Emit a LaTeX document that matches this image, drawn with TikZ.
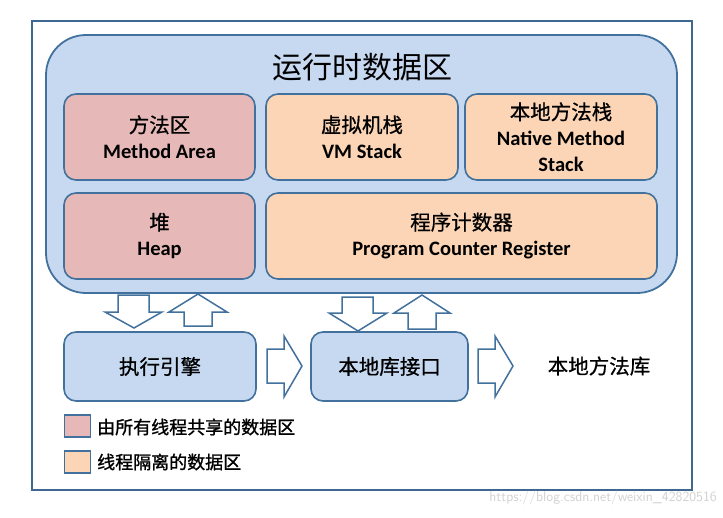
\documentclass[tikz,border=0pt]{standalone}
\usepackage{fontspec}
\setmainfont{Carlito}
\newfontfamily\cjk{Noto Sans CJK SC}
\newfontfamily\cjkm{Noto Sans CJK SC}[FakeBold=0.7]
\newfontfamily\cjkb{Noto Sans CJK SC}[FakeBold=1.2]
\newfontfamily\en{Carlito}
\definecolor{edge}{HTML}{41719C}
\definecolor{framec}{HTML}{3F6890}
\definecolor{bluef}{HTML}{C6D9F1}
\definecolor{pinkf}{HTML}{E6B9B8}
\definecolor{orangef}{HTML}{FBD5B5}
\tikzset{
  area/.style={draw=edge, line width=1.6pt, rounded corners=12pt, inner sep=0pt, align=center,
     font=\fontsize{20.5}{26}\selectfont},
  shared/.style={area, fill=pinkf},
  private/.style={area, fill=orangef},
  engine/.style={area, fill=bluef},
  blockarrow/.style={draw=edge, fill=white, line width=1.5pt, line join=miter},
  legendbox/.style={draw=edge, line width=1.5pt, minimum width=26pt, minimum height=22pt, inner sep=0pt},
  legendtext/.style={anchor=west, inner sep=0pt, font=\fontsize{18}{20}\selectfont\cjkb}
}
\begin{document}
\begin{tikzpicture}[x=1pt,y=-1pt]
\useasboundingbox (0,0) rectangle (723,517);
% outer frame
\node[draw=framec, line width=1.8pt, minimum width=660pt, minimum height=469pt, inner sep=0pt] (frame) at (362,255.5) {};
% runtime data area
\node[draw=edge, fill=bluef, line width=1.8pt, rounded corners=40pt, minimum width=631pt, minimum height=258pt, inner sep=0pt] (rda) at (361.5,164) {};
\node[font=\fontsize{30}{32}\selectfont\cjk, inner sep=0pt] (title) at (362,67) {运行时数据区};
% inner regions
\node[shared, minimum width=191pt, minimum height=86pt] (method) at (159.5,137) {{\cjkm 方法区}\\{\en\bfseries Method Area}};
\node[private, minimum width=192pt, minimum height=86pt] (vm) at (362,137) {{\cjkm 虚拟机栈}\\{\en\bfseries VM Stack}};
\node[private, minimum width=192pt, minimum height=86pt] (native) at (561,137) {{\cjkm 本地方法栈}\\{\en\bfseries Native Method}\\{\en\bfseries Stack}};
\node[shared, minimum width=191pt, minimum height=86pt] (heap) at (159.5,236) {{\cjkm 堆}\\{\en\bfseries Heap}};
\node[private, minimum width=391pt, minimum height=86pt] (pc) at (461.5,236) {{\cjkm 程序计数器}\\{\en\bfseries Program Counter Register}};
% lower boxes
\node[engine, minimum width=192pt, minimum height=69pt, font=\fontsize{20.5}{24}\selectfont\cjkm] (exec) at (160,366.5) {执行引擎};
\node[engine, minimum width=157pt, minimum height=69pt, font=\fontsize{20.5}{24}\selectfont\cjkm] (jni) at (389.5,366.5) {本地库接口};
\node[inner sep=0pt, font=\fontsize{20.5}{24}\selectfont\cjkm] (lib) at (599,366) {本地方法库};
% block arrows between data area and execution engine
\draw[blockarrow] (118,295) -- (149,295) -- (149,312) -- (162,312) -- (134,328) -- (105,312) -- (118,312) -- cycle;
\draw[blockarrow] (184,326) -- (212,326) -- (212,312) -- (227,312) -- (198,294) -- (169,312) -- (184,312) -- cycle;
% block arrows between data area and native interface
\draw[blockarrow] (342,297) -- (373,297) -- (373,313) -- (387,313) -- (358,331) -- (329,313) -- (342,313) -- cycle;
\draw[blockarrow] (408,329) -- (436,329) -- (436,313) -- (450,313) -- (422,295) -- (394,313) -- (408,313) -- cycle;
% right arrows
\draw[blockarrow] (267,349) -- (284,349) -- (284,336) -- (302,366) -- (284,397) -- (284,383) -- (267,383) -- cycle;
\draw[blockarrow] (478,349) -- (495,349) -- (495,336) -- (513,366) -- (495,397) -- (495,383) -- (478,383) -- cycle;
% legend
\node[legendbox, fill=pinkf] (lg1) at (77.5,426) {};
\node[legendtext] (lt1) at (97,427) {由所有线程共享的数据区};
\node[legendbox, fill=orangef] (lg2) at (77.5,462) {};
\node[legendtext] (lt2) at (97,462) {线程隔离的数据区};
% watermark
\node[anchor=east, inner sep=0pt, text=black!18, font=\fontsize{14}{16}\selectfont\sffamily] (wm) at (717,498) {https://blog.csdn.net/weixin\_42820516};
\end{tikzpicture}
\end{document}
